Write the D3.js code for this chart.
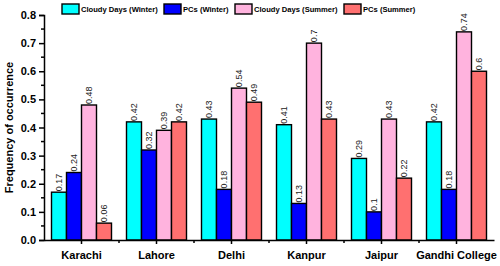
<!DOCTYPE html>
<html>
<head>
<meta charset="utf-8">
<script src="https://cdn.jsdelivr.net/npm/d3@7"></script>
<style>
  body { margin: 0; background: #fff; }
  text { font-family: "Liberation Sans", Arial, sans-serif; }
</style>
</head>
<body>
<div class="c_chart"></div>
<script>
/* data */
const cities = ["Karachi", "Lahore", "Delhi", "Kanpur", "Jaipur", "Gandhi College"];
const seriesNames = ["Cloudy Days (Winter)", "PCs (Winter)", "Cloudy Days (Summer)", "PCs (Summer)"];
const cloudyWinter = [0.17, 0.42, 0.43, 0.41, 0.29, 0.42];
const pcsWinter = [0.24, 0.32, 0.18, 0.13, 0.1, 0.18];
const cloudySummer = [0.48, 0.39, 0.54, 0.7, 0.43, 0.74];
const pcsSummer = [0.06, 0.42, 0.49, 0.43, 0.22, 0.6];
const yTicks = [0, 0.1, 0.2, 0.3, 0.4, 0.5, 0.6, 0.7, 0.8];

const colors = ["#00FFFF", "#0000FF", "#FFB3DE", "#FF7070"];
const allSeries = [cloudyWinter, pcsWinter, cloudySummer, pcsSummer];

/* svg */
const width = 500, height = 266;
const margin = {top: 15, right: 6, bottom: 26, left: 44};

let svg = d3.select(".c_chart").append("svg")
	.attr("width", width)
	.attr("height", height);

const x = d3.scaleBand()
	.domain(cities)
	.range([margin.left, width - margin.right])
	.paddingInner(0.2)
	.paddingOuter(0.1);

const xSub = d3.scaleBand()
	.domain(seriesNames)
	.range([0, x.bandwidth()]);

const y = d3.scaleLinear()
	.domain([0, 0.8])
	.range([height - margin.bottom, margin.top]);

/* bars */
const groups = svg.selectAll("g.grp")
	.data(cities)
	.enter()
	.append("g")
	.attr("class", "grp")
	.attr("transform", d => `translate(${x(d)},0)`);

seriesNames.forEach(function(name, si){
	groups.append("rect")
		.attr("x", xSub(name))
		.attr("width", xSub.bandwidth())
		.attr("y", (d, i) => y(allSeries[si][i]))
		.attr("height", (d, i) => y(0) - y(allSeries[si][i]))
		.attr("fill", colors[si])
		.attr("stroke", "#000")
		.attr("stroke-width", 1.4);

	groups.append("text")
		.attr("transform", (d, i) => `translate(${xSub(name) + xSub.bandwidth() / 2},${y(allSeries[si][i]) - 1}) rotate(-90)`)
		.attr("dominant-baseline", "central")
		.attr("font-size", 9)
		.attr("fill", "#222")
		.text((d, i) => allSeries[si][i]);
});

/* axes */
const yAxis = d3.axisLeft(y)
	.tickValues(yTicks)
	.tickFormat(d3.format(".1f"))
	.tickSize(5)
	.tickPadding(3);

const gy = svg.append("g")
	.attr("transform", `translate(${margin.left},0)`)
	.call(yAxis);
gy.select(".domain").attr("stroke-width", 1.5);
gy.selectAll(".tick line").attr("stroke-width", 1.5);
gy.selectAll(".tick text")
	.attr("font-size", 11)
	.attr("font-weight", "bold")
	.attr("fill", "#000");

// minor y ticks
const yMinor = d3.range(0.05, 0.8, 0.1);
svg.append("g").selectAll("line")
	.data(yMinor)
	.enter()
	.append("line")
	.attr("x1", margin.left - 3)
	.attr("x2", margin.left)
	.attr("y1", d => y(d))
	.attr("y2", d => y(d))
	.attr("stroke", "#000")
	.attr("stroke-width", 1.5);

const xAxis = d3.axisBottom(x)
	.tickSize(4)
	.tickSizeOuter(0)
	.tickPadding(7);

const gx = svg.append("g")
	.attr("transform", `translate(0,${y(0)})`)
	.call(xAxis);
gx.select(".domain").attr("stroke-width", 1.5);
gx.selectAll(".tick line").attr("stroke-width", 1.5);
gx.selectAll(".tick text")
	.attr("font-size", 11)
	.attr("font-weight", "bold")
	.attr("fill", "#000");

// minor x ticks at band borders
const step = x.step();
const xMinor = cities.slice(1).map(c => x(c) - (step - x.bandwidth()) / 2);
svg.append("g").selectAll("line")
	.data(xMinor)
	.enter()
	.append("line")
	.attr("x1", d => d)
	.attr("x2", d => d)
	.attr("y1", y(0))
	.attr("y2", y(0) + 3)
	.attr("stroke", "#000")
	.attr("stroke-width", 1.5);

/* y label */
svg.append("text")
	.attr("transform", `translate(13,${(y(0) + y(0.8)) / 2}) rotate(-90)`)
	.attr("text-anchor", "middle")
	.attr("font-size", 11)
	.attr("font-weight", "bold")
	.text("Frequency of occurrence");

/* legend */
const legendX = [62, 164, 235, 344];
const legend = svg.append("g").selectAll("g")
	.data(seriesNames)
	.enter()
	.append("g")
	.attr("transform", (d, i) => `translate(${legendX[i]},4)`);

legend.append("rect")
	.attr("width", 17)
	.attr("height", 10)
	.attr("fill", (d, i) => colors[i])
	.attr("stroke", "#000")
	.attr("stroke-width", 1.4);

legend.append("text")
	.attr("x", 19)
	.attr("y", 5)
	.attr("dominant-baseline", "central")
	.attr("font-size", 7.6)
	.attr("font-weight", "bold")
	.text(d => d);
</script>
</body>
</html>
